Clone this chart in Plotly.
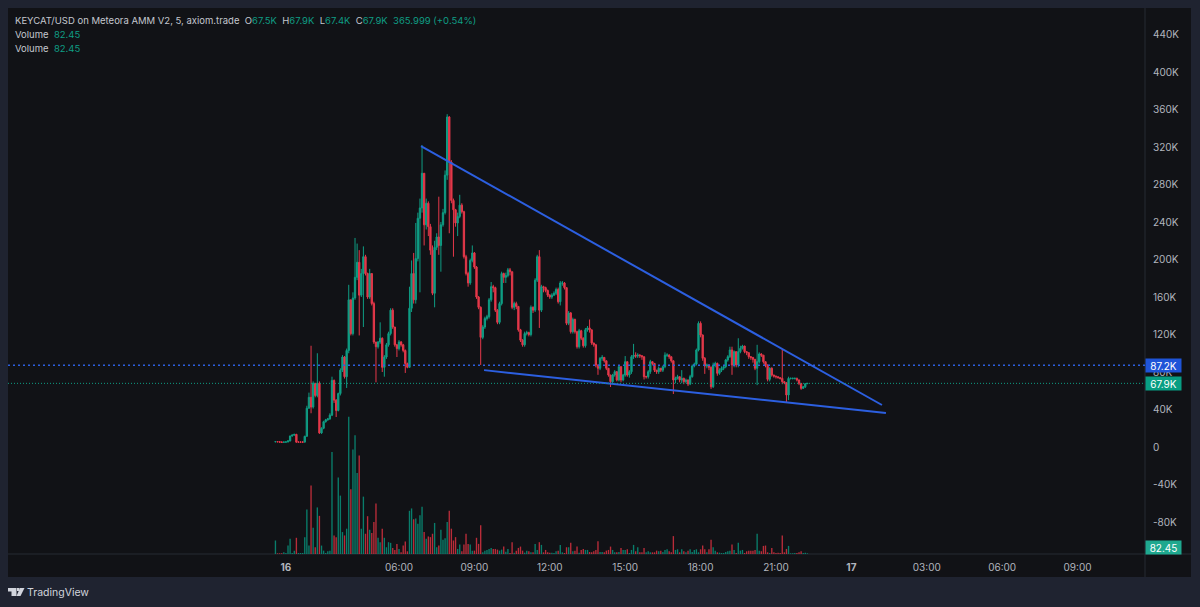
import plotly.graph_objs as go

# цены в тысячах, по одной пятиминутной свече на индекс
close_k = [5.7, 5.6, 5.2, 5.0, 5.2, 5.4, 6.5, 11.8, 12.8, 13.5, 5.2, 5.2, 5.2, 5.2, 11.4,
           41.4, 53, 42.7, 68, 55, 68, 15, 20, 27, 29, 30, 34, 71, 50, 39,
           57, 82, 96, 75, 103, 157, 121, 159, 181, 197, 162, 185, 203, 185, 160,
           185, 153, 112, 107, 112, 116, 85, 96, 109, 121, 146, 128, 109, 105, 112,
           109, 103, 89, 85, 148, 185, 157, 201, 244, 255, 292, 237, 260, 235, 210,
           164, 213, 224, 215, 237, 250, 290, 352, 304, 263, 253, 239, 246, 258, 251,
           203, 185, 175, 199, 207, 192, 160, 149, 117, 128, 137, 139, 157, 171, 170,
           146, 133, 153, 185, 181, 183, 189, 187, 149, 153, 150, 125, 114, 109, 121,
           122, 120, 149, 146, 178, 203, 146, 171, 170, 167, 162, 160, 162, 164, 168,
           155, 175, 175, 170, 132, 143, 123, 136, 123, 107, 124, 116, 108, 125, 127,
           125, 111, 109, 87.5, 84, 94.6, 95.6, 92, 84, 76.8, 69.7, 76.8, 80.3, 71.5, 85.7,
           71.5, 76.8, 91, 76.8, 80.3, 96.3, 98, 97, 98, 97.4, 96.3, 75, 75, 80.3, 91,
           89.2, 82, 80.3, 84, 82, 85.7, 98, 98, 96.3, 92, 71.5, 73.2, 75, 71.5, 73.2,
           69.7, 71.5, 67.2, 75, 86.4, 88.5, 103.5, 131.9, 119.5, 94.6, 86.4, 87.5, 85, 64.3, 87.5,
           89.2, 78.6, 82, 84, 85.7, 92.8, 96.3, 103.5, 87.5, 101.7, 87.5, 101.7, 105.2, 107.7, 101.7,
           100.6, 96.3, 95.6, 93.5, 84, 91, 99.2, 98, 91, 87.5, 72.2, 84, 76.8, 75.7, 75,
           74, 73.2, 69.7, 68.6, 55.5, 73.2, 73.2, 73.2, 73.2, 71.5, 67.9, 62.6, 64.3, 67.5, 67.9]
high_k = [6, 6, 6, 6, 6, 6, 7, 12, 13, 14, 14, 6, 6, 6, 12,
          44, 58, 108, 70, 68, 100, 70, 21, 28, 30, 31, 36, 75, 72, 51,
          58, 84, 98, 97, 105, 173, 157, 165, 223, 217, 210, 190, 214, 205, 186,
          190, 185, 155, 112, 113, 133, 117, 98, 111, 123, 148, 148, 128, 110, 114,
          113, 110, 104, 90, 171, 199, 207, 239, 250, 265, 322, 292, 265, 262, 238,
          215, 220, 228, 267, 240, 254, 295, 355, 353, 306, 265, 254, 250, 269, 260,
          252, 205, 187, 201, 215, 208, 193, 161, 150, 130, 139, 141, 159, 176, 173,
          171, 147, 155, 187, 186, 186, 191, 191, 187, 155, 155, 150, 126, 115, 123,
          124, 123, 151, 150, 180, 205, 210, 173, 172, 171, 168, 163, 164, 166, 170,
          170, 177, 177, 176, 170, 145, 144, 138, 137, 124, 126, 125, 117, 127, 129,
          136, 125, 111, 110, 88, 96, 98, 96, 92, 84, 77, 78, 82, 81, 87,
          86, 78, 97, 91, 82, 98, 110, 101, 100, 99, 98, 96, 76, 82, 93,
          91, 89, 82, 86, 84, 87, 101, 100, 99, 96, 92, 75, 77, 75, 82,
          74, 73, 72, 77, 88, 90, 105, 134, 134, 120, 96, 89, 88, 86, 90,
          91, 90, 84, 86, 87, 94, 98, 107, 107, 103, 102, 116, 108, 109, 108,
          102, 101, 97, 95, 94, 109, 101, 100, 98, 91, 88, 85, 85, 77, 76,
          75, 74, 104.5, 70, 69, 75, 74, 74, 74, 74, 72, 68, 65, 68, 68]
low_k = [5, 5, 5, 4.5, 5, 5, 5, 6, 11, 12, 4.5, 4.5, 4.5, 4.5, 5,
         11, 41, 36, 41, 53, 53, 14, 14, 19, 26, 28, 29, 33, 47, 32,
         38, 55, 80, 73, 63, 100, 119, 119, 157, 178, 119, 160, 128, 183, 158,
         158, 151, 110, 69, 105, 110, 80, 75, 94, 107, 119, 126, 107, 96, 103,
         107, 101, 79, 84, 85, 144, 153, 153, 198, 165, 250, 215, 232, 225, 205,
         162, 149, 210, 205, 187, 235, 248, 285, 228, 260, 203, 235, 225, 244, 249,
         201, 183, 171, 173, 197, 190, 158, 147, 87.5, 115, 126, 135, 137, 155, 165,
         144, 131, 131, 151, 175, 175, 181, 183, 147, 146, 147, 123, 112, 107, 107,
         119, 118, 118, 143, 144, 176, 127, 144, 165, 165, 160, 158, 158, 161, 162,
         153, 151, 172, 168, 130, 130, 121, 121, 121, 105, 105, 114, 106, 106, 123,
         122, 109, 107, 85, 77, 82, 92, 90, 82, 75, 64, 68, 75, 70, 70,
         69, 70, 75, 75, 74, 78, 94, 95, 95, 95, 93, 72, 73, 73, 78,
         87, 80, 78, 78, 80, 80, 84, 96, 94, 90, 56.5, 68, 72, 69, 68,
         67, 68, 65, 66, 74, 85, 87, 102, 117, 92, 78, 84, 82, 62, 63,
         85, 76, 77, 80, 82, 84, 91, 95, 77, 85, 85, 85, 100, 104, 100,
         98, 94, 93, 90, 82, 66, 89, 96, 89, 85, 70, 70, 75, 74, 73,
         73, 72, 67, 67, 48, 50, 72, 72, 72, 70, 66, 61, 62, 63, 67.4]
volume = [1080, 54, 54, 54, 135, 81, 675, 1215, 81, 270, 1296, 81, 81, 81, 1350,
          3564, 675, 5481, 2106, 540, 3726, 3051, 675, 270, 81, 216, 270, 8154, 1485, 1350,
          6129, 4671, 1755, 1485, 2025, 10989, 5184, 8370, 9504, 6480, 7884, 2025, 4590, 1620, 3024,
          1944, 1674, 2565, 4050, 1296, 945, 2025, 1296, 540, 945, 891, 486, 324, 810, 405,
          135, 675, 999, 216, 3456, 3645, 2781, 2835, 2430, 3105, 3780, 1755, 1215, 1404, 1350,
          1620, 2484, 540, 675, 1944, 1134, 1269, 2565, 3456, 2025, 1080, 1350, 405, 756, 216,
          756, 1620, 810, 756, 270, 270, 1296, 810, 2295, 135, 270, 324, 405, 486, 405,
          405, 351, 270, 351, 594, 189, 405, 81, 945, 108, 270, 486, 594, 270, 108,
          270, 216, 135, 135, 810, 324, 945, 729, 135, 324, 135, 108, 108, 81, 216,
          270, 729, 135, 81, 540, 540, 891, 216, 270, 594, 108, 324, 405, 324, 324,
          162, 135, 216, 324, 1026, 162, 162, 135, 270, 324, 594, 324, 135, 135, 162,
          486, 324, 324, 378, 81, 324, 729, 216, 540, 135, 135, 486, 135, 216, 135,
          135, 135, 270, 216, 270, 162, 324, 378, 216, 135, 1431, 324, 378, 135, 378,
          216, 135, 270, 378, 162, 324, 378, 135, 378, 675, 378, 135, 378, 1134, 540,
          270, 135, 108, 81, 81, 162, 216, 270, 756, 324, 81, 891, 270, 324, 81,
          216, 270, 270, 270, 324, 1620, 270, 216, 648, 675, 135, 81, 486, 135, 81,
          108, 81, 1485, 135, 405, 648, 54, 54, 81, 81, 135, 216, 81, 108, 54]

tick_index = [5, 59, 95, 131, 167, 203, 239, 275, 311, 347, 383]
tick_labels = ["<b>16</b>", "06:00", "09:00", "12:00", "15:00", "18:00", "21:00", "<b>17</b>", "03:00", "06:00", "09:00"]
price_ticks_k = [-80, -40, 0, 40, 80, 120, 160, 200, 240, 280, 320, 360, 400, 440]
price_labels = ["-80K", "-40K", "0", "40K", "80K", "120K", "160K", "200K", "240K", "280K", "320K", "360K", "400K", "440K"]

upper_line_i = [69.5, 289.6]
upper_line_k = [321, 44.8]
lower_line_i = [99.6, 291.5]
lower_line_k = [82, 36.3]
marked_price_k = 87.2
last_price_k = 67.9

assert len(close_k) == len(high_k) == len(low_k) == len(volume)

W, H = 1200, 607
GREEN = "#0f9d84"
RED = "#e5384a"
BLUE = "#2c5fe0"
PANE = "#111216"
BORDER = "#262a33"
TEXT = "#b2b5be"
FONT = "Inter, Roboto, sans-serif"


def px(x):
    return x / W


def py(y):
    return 1 - y / H


index = list(range(len(close_k)))
open_k = [close_k[0]] + close_k[:-1]
volume_colors = ["rgba(8,153,129,0.8)" if c >= o else "rgba(242,54,69,0.75)" for o, c in zip(open_k, close_k)]

fig = go.Figure()
fig.add_trace(go.Bar(x=index, y=volume, yaxis="y2", marker=dict(color=volume_colors, line=dict(width=0)),
                     showlegend=False))
fig.add_trace(go.Candlestick(x=index, open=open_k, high=high_k, low=low_k, close=close_k,
                             increasing=dict(line=dict(color=GREEN, width=1), fillcolor=GREEN),
                             decreasing=dict(line=dict(color=RED, width=1), fillcolor=RED),
                             whiskerwidth=0, showlegend=False))
# линии клина
for line_i, line_k in ((upper_line_i, upper_line_k), (lower_line_i, lower_line_k)):
    fig.add_trace(go.Scatter(x=line_i, y=line_k, mode="lines", line=dict(color=BLUE, width=2), showlegend=False))

shapes = [
    # панели графика и шкал
    dict(type="rect", xref="paper", yref="paper", x0=px(8), x1=px(1191), y0=py(577), y1=py(8),
         fillcolor=PANE, line=dict(width=0), layer="below"),
    dict(type="line", xref="paper", yref="paper", x0=px(1145), x1=px(1145), y0=py(577), y1=py(8),
         line=dict(color=BORDER, width=1), layer="below"),
    dict(type="line", xref="paper", yref="paper", x0=px(8), x1=px(1191), y0=py(554), y1=py(554),
         line=dict(color=BORDER, width=1), layer="below"),
    dict(type="line", xref="x domain", yref="y", x0=0, x1=1, y0=marked_price_k, y1=marked_price_k,
         line=dict(color=BLUE, width=1.5, dash="2px,3px")),
    dict(type="line", xref="x domain", yref="y", x0=0, x1=1, y0=last_price_k, y1=last_price_k,
         line=dict(color=GREEN, width=1, dash="1px,2px")),
]

# логотип TradingView
logo_t = f"M {px(8)} {py(588)} L {px(16.5)} {py(588)} L {px(16.5)} {py(596)} L {px(11.5)} {py(596)} L {px(11.5)} {py(591.5)} L {px(8)} {py(591.5)} Z"
logo_slash = f"M {px(20)} {py(588)} L {px(24.5)} {py(588)} L {px(20.5)} {py(596)} L {px(16.5)} {py(596)} Z"
logo_dot = f"M {px(17)} {py(588)} L {px(19.5)} {py(588)} L {px(19.5)} {py(591)} L {px(17)} {py(591)} Z"
for path in (logo_t, logo_slash, logo_dot):
    shapes.append(dict(type="path", xref="paper", yref="paper", path=path, fillcolor="#d1d4dc", line=dict(width=0)))

value = f'<span style="color:{GREEN}">%s</span>'
header = ("KEYCAT/USD on Meteora AMM V2, 5, axiom.trade  O" + value % "67.5K" + "  H" + value % "67.9K"
          + "  L" + value % "67.4K" + "  C" + value % "67.9K" + "  " + value % "365.999 (+0.54%)")
texts = [(13, 20.5, header), (13, 34.5, "Volume  " + value % "82.45"), (13, 49, "Volume  " + value % "82.45")]
annotations = [dict(xref="paper", yref="paper", x=px(x), y=py(y), text=t, showarrow=False, xanchor="left",
                    yanchor="middle", align="left", font=dict(family=FONT, size=9.5, color="#c4c7cf"))
               for x, y, t in texts]
annotations.append(dict(xref="paper", yref="paper", x=px(25), y=py(592), text="TradingView", showarrow=False,
                        xanchor="left", yanchor="middle", font=dict(family=FONT, size=10.5, color="#d1d4dc")))
# плашки цен на шкале
for y, label, color in ((365, "87.2K", "#1f54d8"), (383, "67.9K", "#089e83"), (547.5, "82.45", "#1fa88f")):
    annotations.append(dict(xref="paper", yref="paper", x=px(1145), y=py(y), text=label, showarrow=False,
                            xanchor="left", yanchor="middle", width=33, height=11, bgcolor=color, borderpad=1,
                            align="center", font=dict(family=FONT, size=10, color="#ffffff")))

fig.update_layout(
    width=W, height=H,
    margin=dict(l=0, r=0, t=0, b=0),
    paper_bgcolor="#1f2330",
    plot_bgcolor="rgba(0,0,0,0)",
    bargap=0.35,
    boxgap=0.1,
    showlegend=False,
    shapes=shapes,
    annotations=annotations,
    font=dict(family=FONT, size=10, color=TEXT),
    xaxis=dict(domain=[px(8), px(1145)], range=[-127.7, 415.2], tickmode="array", tickvals=tick_index,
               ticktext=tick_labels, showgrid=False, zeroline=False, showline=False, ticks="",
               tickangle=0, ticklabelstandoff=6, rangeslider=dict(visible=False),
               tickfont=dict(family=FONT, size=10, color=TEXT)),
    yaxis=dict(domain=[py(554), py(8)], range=[-114.13, 468.27], side="right", tickmode="array",
               tickvals=price_ticks_k, ticktext=price_labels, showgrid=False, zeroline=False, showline=False,
               ticks="", ticklabelstandoff=7, tickfont=dict(family=FONT, size=10, color=TEXT)),
    yaxis2=dict(domain=[py(554), py(8)], range=[0, 43680], overlaying="y", side="left", visible=False),
)

# у body по умолчанию отступ 8px, из-за него картинка съезжает
fig.write_html("out.html", config={"displayModeBar": False},
               post_script="document.body.style.margin = '0'; document.documentElement.style.overflow = 'hidden';")
